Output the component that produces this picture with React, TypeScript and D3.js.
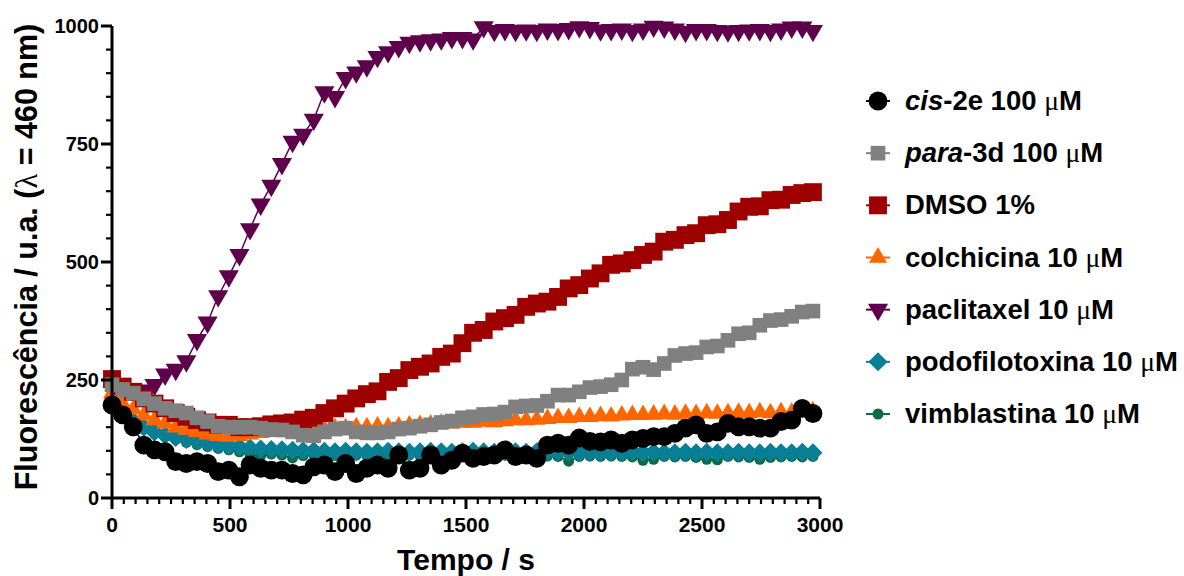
import React from "react";
import * as d3 from "d3";

// sampling times (s)
const time = [0, 45, 90, 135, 180, 225, 270, 315, 360, 405, 450, 495, 540, 585, 630, 675, 720, 765, 810, 855, 900, 945, 990, 1035, 1080, 1125, 1170, 1215, 1260, 1305, 1350, 1395, 1440, 1485, 1530, 1575, 1620, 1665, 1710, 1755, 1800, 1845, 1890, 1935, 1980, 2025, 2070, 2115, 2160, 2205, 2250, 2295, 2340, 2385, 2430, 2475, 2520, 2565, 2610, 2655, 2700, 2745, 2790, 2835, 2880, 2925, 2970];

const cis2e = [197, 176, 151, 112, 102, 98, 77, 73, 77, 73, 56, 59, 45, 70, 63, 59, 59, 52, 49, 66, 70, 56, 73, 52, 63, 70, 63, 91, 59, 63, 91, 70, 80, 95, 84, 88, 91, 102, 88, 91, 84, 112, 116, 112, 127, 120, 119, 123, 116, 123, 126, 130, 130, 137, 148, 155, 137, 140, 158, 151, 151, 148, 148, 162, 165, 190, 179];
const para3d = [240, 230, 222, 210, 200, 190, 185, 180, 170, 162, 152, 150, 150, 150, 148, 145, 144, 140, 133, 132, 140, 146, 148, 140, 138, 138, 140, 146, 148, 152, 155, 160, 163, 170, 172, 177, 178, 182, 193, 195, 196, 205, 218, 218, 225, 234, 236, 240, 250, 273, 277, 272, 285, 302, 306, 308, 320, 322, 334, 348, 350, 366, 376, 378, 385, 394, 396];
const dmso = [252, 236, 225, 211, 200, 190, 180, 172, 165, 160, 155, 155, 150, 150, 152, 156, 158, 160, 166, 170, 180, 190, 200, 211, 220, 226, 246, 254, 271, 278, 285, 299, 306, 328, 350, 356, 374, 381, 388, 405, 412, 416, 426, 444, 451, 465, 476, 494, 497, 504, 515, 522, 543, 547, 557, 561, 578, 580, 589, 607, 617, 618, 631, 632, 642, 646, 648];
const colchicina = [222, 200, 188, 175, 165, 158, 150, 145, 140, 135, 132, 130, 132, 135, 138, 140, 140, 142, 143, 145, 146, 148, 148, 150, 150, 152, 150, 152, 154, 155, 156, 158, 158, 160, 160, 162, 161, 163, 165, 165, 166, 168, 170, 170, 172, 172, 174, 173, 175, 176, 176, 177, 178, 177, 179, 178, 180, 179, 180, 181, 180, 182, 180, 182, 181, 183, 184];
const paclitaxel = [238, 230, 225, 228, 240, 262, 272, 290, 335, 372, 428, 470, 515, 570, 622, 662, 708, 755, 770, 802, 860, 850, 890, 902, 915, 935, 945, 956, 965, 968, 970, 972, 975, 975, 972, 998, 990, 992, 990, 991, 990, 993, 992, 994, 998, 996, 991, 992, 993, 990, 993, 999, 997, 993, 988, 992, 992, 990, 989, 990, 991, 992, 990, 993, 997, 997, 990];
const podofilotoxina = [195, 180, 163, 150, 140, 133, 128, 124, 120, 116, 113, 110, 108, 106, 104, 103, 102, 101, 100, 100, 99, 98, 99, 98, 97, 98, 99, 98, 97, 98, 99, 98, 97, 98, 99, 98, 97, 98, 98, 97, 98, 97, 98, 97, 96, 97, 96, 97, 96, 97, 96, 97, 96, 96, 97, 96, 97, 96, 96, 97, 96, 96, 97, 96, 96, 97, 96];
const vimblastina = [190, 172, 158, 146, 137, 130, 124, 118, 113, 109, 105, 102, 98, 92, 90, 93, 91, 85, 90, 92, 91, 90, 92, 91, 90, 91, 92, 90, 91, 90, 91, 90, 92, 90, 91, 92, 90, 91, 90, 91, 90, 89, 88, 78, 88, 89, 88, 89, 88, 87, 80, 82, 88, 87, 88, 86, 82, 81, 88, 87, 86, 82, 86, 87, 88, 87, 88];

const xTicks = [0, 500, 1000, 1500, 2000, 2500, 3000];
const yTicks = [0, 250, 500, 750, 1000];
const minorStep = 50;

const FONT = "'Liberation Sans', Arial, Helvetica, sans-serif";
const SYM = "'Liberation Serif', 'DejaVu Serif', serif";

// legend order; drawn in reverse so the first one sits on top
const series = [
    { key: "cis", values: cis2e, color: "#000000", shape: "circle", size: 280 },
    { key: "para", values: para3d, color: "#808080", shape: "square", size: 215 },
    { key: "dmso", values: dmso, color: "#9e0000", shape: "square", size: 320 },
    { key: "colch", values: colchicina, color: "#ff6600", shape: "triangle", size: 140 },
    { key: "pacli", values: paclitaxel, color: "#5f004d", shape: "triangleDown", size: 175 },
    { key: "podo", values: podofilotoxina, color: "#097f96", shape: "diamond", size: 180 },
    { key: "vimb", values: vimblastina, color: "#0b6b43", shape: "circle", size: 95 },
];

function symbolPath(shape, size) {
    let type = d3.symbolCircle;
    if (shape === "square" || shape === "diamond") type = d3.symbolSquare;
    if (shape === "triangle" || shape === "triangleDown") type = d3.symbolTriangle;
    return d3.symbol().type(type).size(size)();
}

function symbolRotate(shape) {
    if (shape === "triangleDown") return " rotate(180)";
    if (shape === "diamond") return " rotate(45)";
    return "";
}

function Mu() {
    return <tspan fontFamily={SYM} fontWeight="normal">μ</tspan>;
}

function LegendLabel({ k }) {
    if (k === "cis") return <><tspan fontStyle="italic">cis</tspan>-2e 100 <Mu />M</>;
    if (k === "para") return <><tspan fontStyle="italic">para</tspan>-3d 100 <Mu />M</>;
    if (k === "dmso") return <>DMSO 1%</>;
    if (k === "colch") return <>colchicina 10 <Mu />M</>;
    if (k === "pacli") return <>paclitaxel 10 <Mu />M</>;
    if (k === "podo") return <>podofilotoxina 10 <Mu />M</>;
    return <>vimblastina 10 <Mu />M</>;
}

export default function App() {
    const width = 1184;
    const height = 576;
    const x = d3.scaleLinear().domain([0, 3000]).range([112, 820]);
    const y = d3.scaleLinear().domain([0, 1000]).range([498, 26]);

    const xMinor = d3.range(0, 3001, minorStep).filter(v => !xTicks.includes(v));
    const yMinor = d3.range(0, 1001, minorStep).filter(v => !yTicks.includes(v));

    const line = d3.line().x(d => x(d[0])).y(d => y(d[1]));

    const legendX = 878;
    const legendY = d3.scaleLinear().domain([0, 6]).range([101, 414]);

    return (
        <div style={{ position: "fixed", left: 0, top: 0 }}>
            <svg width={width} height={height} style={{ display: "block", background: "#fff" }}>
                <rect width={width} height={height} fill="#fff" />

                {/* data */}
                {series.slice().reverse().map(s => {
                    const pts = s.values.map((v, i) => [time[i], v]);
                    const d = symbolPath(s.shape, s.size);
                    return (
                        <g key={s.key}>
                            <path d={line(pts)} fill="none" stroke={s.color} strokeWidth={1.5} />
                            {pts.map((p, i) => (
                                <path
                                    key={i}
                                    d={d}
                                    fill={s.color}
                                    transform={"translate(" + x(p[0]) + "," + y(p[1]) + ")" + symbolRotate(s.shape)}
                                />
                            ))}
                        </g>
                    );
                })}

                {/* axes */}
                <g stroke="#000" fill="none">
                    <line x1={x(0)} x2={x(3000)} y1={y(0)} y2={y(0)} strokeWidth={3} />
                    <line x1={x(0)} x2={x(0)} y1={y(0)} y2={y(1000)} strokeWidth={3} />
                    {xTicks.map(t => (
                        <line key={"xt" + t} x1={x(t)} x2={x(t)} y1={y(0)} y2={y(0) + 11} strokeWidth={3} />
                    ))}
                    {xMinor.map(t => (
                        <line key={"xm" + t} x1={x(t)} x2={x(t)} y1={y(0)} y2={y(0) + 6} strokeWidth={2.2} />
                    ))}
                    {yTicks.map(t => (
                        <line key={"yt" + t} x1={x(0) - 11} x2={x(0)} y1={y(t)} y2={y(t)} strokeWidth={3} />
                    ))}
                    {yMinor.map(t => (
                        <line key={"ym" + t} x1={x(0) - 6} x2={x(0)} y1={y(t)} y2={y(t)} strokeWidth={2.2} />
                    ))}
                </g>

                <g fontFamily={FONT} fontWeight="bold" fill="#000">
                    {xTicks.map(t => (
                        <text key={"xl" + t} x={x(t)} y={532} textAnchor="middle" fontSize={21}>{t}</text>
                    ))}
                    {yTicks.map(t => (
                        <text key={"yl" + t} x={99} y={y(t) + 7} textAnchor="end" fontSize={20}>{t}</text>
                    ))}
                    <text x={466} y={570} textAnchor="middle" fontSize={30}>Tempo / s</text>
                    <text transform="translate(37,257) rotate(-90)" textAnchor="middle" fontSize={30.5}>
                        Fluorescência / u.a. (<tspan fontFamily={SYM} fontWeight="normal">λ</tspan> = 460 nm)
                    </text>
                </g>

                {/* legend */}
                <g fontFamily={FONT} fontWeight="bold" fontSize={27.5}>
                    {series.map((s, i) => {
                        const ly = legendY(i);
                        return (
                            <g key={"lg" + s.key}>
                                <line x1={legendX - 12} x2={legendX + 12} y1={ly} y2={ly} stroke={s.color} strokeWidth={2} />
                                <path
                                    d={symbolPath(s.shape, s.size)}
                                    fill={s.color}
                                    transform={"translate(" + legendX + "," + ly + ")" + symbolRotate(s.shape)}
                                />
                                <text x={905} y={ly + 9} fill="#000"><LegendLabel k={s.key} /></text>
                            </g>
                        );
                    })}
                </g>
            </svg>
        </div>
    );
}
